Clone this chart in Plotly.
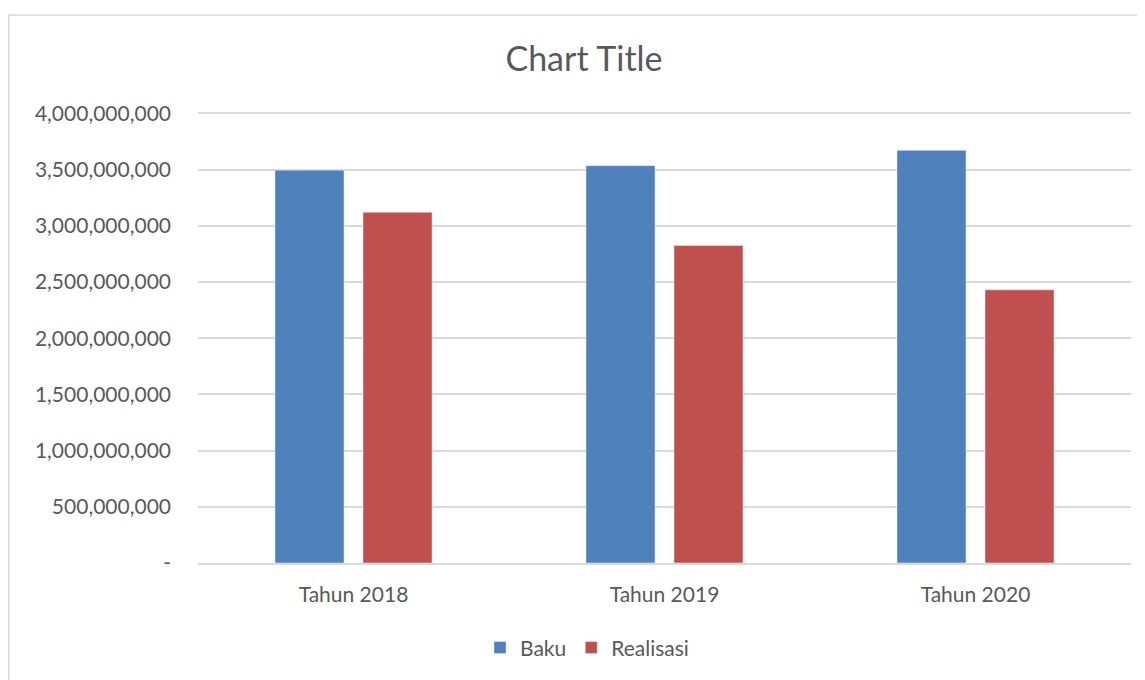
import plotly.graph_objects as go

categories = ["Tahun 2018", "Tahun 2019", "Tahun 2020"]
baku = [3495000000, 3535000000, 3671000000]
realisasi = [3120000000, 2824000000, 2430000000]
tick_vals = [0, 500000000, 1000000000, 1500000000, 2000000000,
             2500000000, 3000000000, 3500000000, 4000000000]
tick_text = ["-", "500,000,000", "1,000,000,000", "1,500,000,000", "2,000,000,000",
             "2,500,000,000", "3,000,000,000", "3,500,000,000", "4,000,000,000"]

FONT = "Lato"
GRAY = "#595959"
OFF = 8  # browser body margin

fig = go.Figure()
fig.add_trace(go.Bar(name="Baku", x=categories, y=baku, marker=dict(color="#4f81bd")))
fig.add_trace(go.Bar(name="Realisasi", x=categories, y=realisasi, marker=dict(color="#c0504d")))

W, H = 1137, 672
YMAX = 4030000000
L, R, B = 198 - OFF, 1131 - OFF, 563 - OFF
T = B - 450 * YMAX / 4000000000


def py(v):
    return (B - v) / (B - T)


fig.update_layout(
    width=W, height=H,
    margin=dict(l=L, r=W - R, t=T, b=H - B, autoexpand=False),
    paper_bgcolor="white", plot_bgcolor="white",
    barmode="group", bargap=0.434, bargroupgap=0.216,
    font=dict(family=FONT, color=GRAY, size=21),
    title=dict(text="Chart Title", x=(584 - OFF - L) / (R - L), xref="paper", xanchor="center",
               y=1 - (59 - OFF) / H, yref="container", yanchor="middle",
               font=dict(family=FONT, size=34, color=GRAY)),
    showlegend=True,
    legend=dict(orientation="h", x=(587 - OFF - L) / (R - L), xanchor="center",
                y=py(648 - OFF), yanchor="middle",
                font=dict(family=FONT, size=21, color=GRAY), itemwidth=30),
    xaxis=dict(showgrid=False, showline=True, linecolor="#d9d9d9", linewidth=1.5,
               ticks="", ticklabelstandoff=12, tickfont=dict(size=21, color=GRAY)),
    yaxis=dict(range=[0, YMAX], tickvals=tick_vals, ticktext=tick_text,
               showgrid=True, gridcolor="#d9d9d9", gridwidth=1.5, zeroline=False,
               showline=False, ticks="", ticklabelstandoff=26,
               tickfont=dict(size=21, color=GRAY)),
    shapes=[dict(type="rect", xref="paper", yref="paper",
                 x0=(0.8 - L) / (R - L), x1=(1160 - L) / (R - L),
                 y0=py(700), y1=py(14.5 - OFF),
                 line=dict(color="#d9d9d9", width=1.5), fillcolor="rgba(0,0,0,0)",
                 layer="below")],
)

fig.write_html("out.html")
